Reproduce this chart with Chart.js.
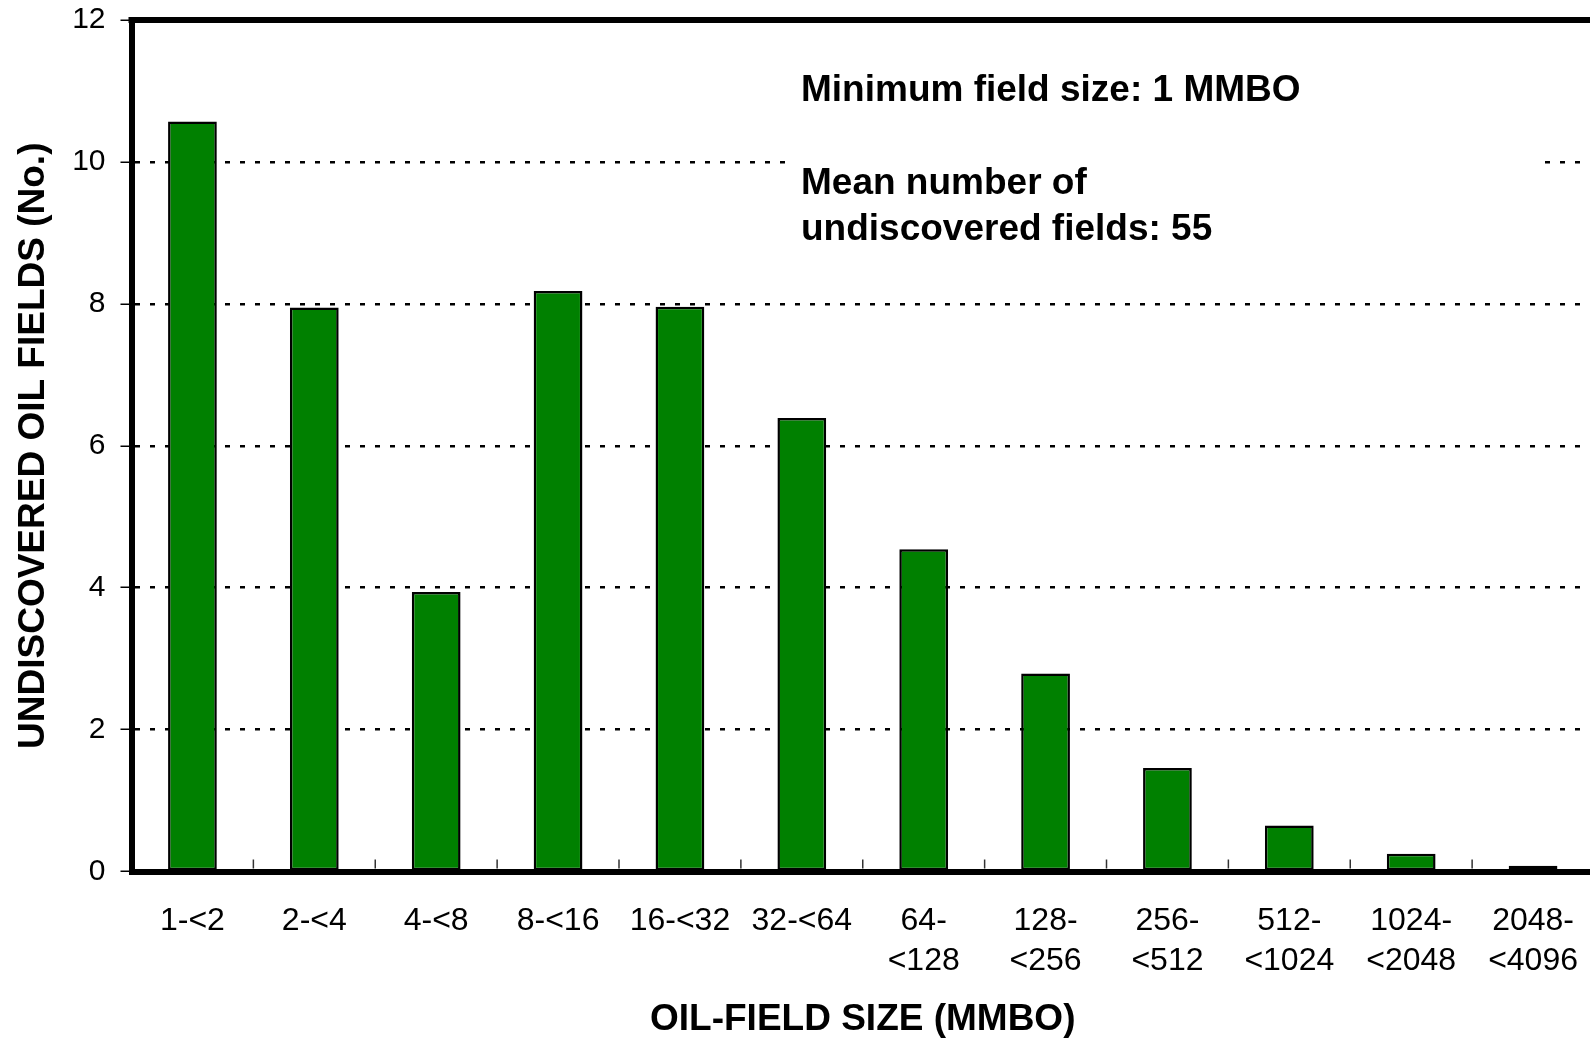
<!DOCTYPE html>
<html>
<head>
<meta charset="utf-8">
<script src="https://cdn.jsdelivr.net/npm/chart.js@4.4.1/dist/chart.umd.min.js"></script>
<style>
	html, body { margin: 0; padding: 0; background: #fff; overflow: hidden; }
	#wrap { width: 1590px; height: 1039px; overflow: hidden; }
</style>
</head>
<body>
<div id="wrap"><canvas id="myChart" width="1594" height="1039"></canvas></div>
<script>
//데이터
var sizeClass = ['1-<2', '2-<4', '4-<8', '8-<16', '16-<32', '32-<64',
	['64-', '<128'], ['128-', '<256'], ['256-', '<512'], ['512-', '<1024'],
	['1024-', '<2048'], ['2048-', '<4096']];
var fieldCount = [10.57, 7.95, 3.94, 8.18, 7.96, 6.39, 4.54, 2.79, 1.46, 0.65, 0.25, 0.08];
var yTicks = [0, 2, 4, 6, 8, 10, 12];
var noteLines = ['Minimum field size: 1 MMBO', '', 'Mean number of', 'undiscovered fields: 55'];

Chart.defaults.font.family = '"Liberation Sans", Arial, sans-serif';
Chart.defaults.color = '#000';

//위 테두리, x축 안쪽 눈금, 설명 박스
var extras = {
	id: 'extras',
	beforeDatasetsDraw: function(chart){
		var ctx = chart.ctx;
		//설명 박스 (흰 배경이 점선을 가림)
		ctx.save();
		ctx.fillStyle = '#fff';
		ctx.fillRect(790, 55, 752, 205);
		ctx.fillStyle = '#000';
		ctx.font = 'bold 37px "Liberation Sans", Arial, sans-serif';
		ctx.textBaseline = 'alphabetic';
		var base = [101, 147, 194, 240];
		for(var i = 0; i < noteLines.length; i++){
			if(noteLines[i] != '') ctx.fillText(noteLines[i], 801, base[i]);
		}
		ctx.restore();
	},
	afterDraw: function(chart){
		var ctx = chart.ctx;
		var area = chart.chartArea;
		var x = chart.scales.x;
		ctx.save();
		ctx.strokeStyle = '#000';
		//위 테두리
		ctx.lineWidth = 6;
		ctx.beginPath();
		ctx.moveTo(area.left - 3, area.top);
		ctx.lineTo(area.right + 10, area.top);
		ctx.stroke();
		//x축 눈금 (위쪽으로)
		var step = x.getPixelForValue(1) - x.getPixelForValue(0);
		ctx.lineWidth = 1.5;
		ctx.strokeStyle = '#333';
		for(var i = 0; i < sizeClass.length; i++){
			var px = x.getPixelForValue(i) + step / 2;
			ctx.beginPath();
			ctx.moveTo(px, area.bottom - 3);
			ctx.lineTo(px, area.bottom - 12);
			ctx.stroke();
		}
		ctx.restore();
	}
};

var ctx = document.getElementById('myChart');
var chart = new Chart(ctx, {
	type: 'bar',
	data: {
		labels: sizeClass,
		datasets: [{
			data: fieldCount,
			backgroundColor: '#008000',
			borderColor: '#000',
			borderWidth: 2.5,
			borderSkipped: false,
			barPercentage: 0.4,
			categoryPercentage: 1
		}]
	},
	options: {
		responsive: false,
		animation: false,
		layout: { padding: { top: 20, left: 0, right: 0, bottom: 0 } },
		plugins: {
			legend: { display: false },
			tooltip: { enabled: false }
		},
		scales: {
			x: {
				grid: { display: false },
				border: { display: true, color: '#000', width: 6 },
				ticks: {
					font: { size: 32, lineHeight: 1.27 },
					padding: 21,
					maxRotation: 0,
					autoSkip: false
				},
				title: {
					display: true,
					text: 'OIL-FIELD SIZE (MMBO)',
					font: { size: 37, weight: 'bold', lineHeight: 1.05 },
					padding: { top: 0, bottom: 0 }
				},
				afterFit: function(scale){
					scale.height = 167.5;
					scale.paddingLeft = 0;
					scale.paddingRight = 0;
				}
			},
			y: {
				min: 0,
				max: 12,
				afterBuildTicks: function(scale){
					scale.ticks = yTicks.map(function(v){ return { value: v }; });
				},
				grid: {
					color: function(c){
						var v = c.tick ? c.tick.value : 0;
						return (v == 0 || v == 12) ? 'rgba(0,0,0,0)' : '#000';
					},
					lineWidth: 2.5,
					drawTicks: true,
					tickLength: 11,
					tickColor: '#000',
					tickWidth: 1.5
				},
				border: { display: true, color: '#000', width: 6, dash: [5, 10] },
				ticks: {
					font: { size: 30 },
					padding: 15
				},
				title: {
					display: true,
					text: 'UNDISCOVERED OIL FIELDS (No.)',
					font: { size: 37, weight: 'bold' },
					padding: { top: 12, bottom: 0 }
				},
				afterFit: function(scale){
					scale.width = 131.5;
					scale.paddingTop = 0;
					scale.paddingBottom = 0;
				}
			}
		}
	},
	plugins: [extras]
});
</script>
</body>
</html>
